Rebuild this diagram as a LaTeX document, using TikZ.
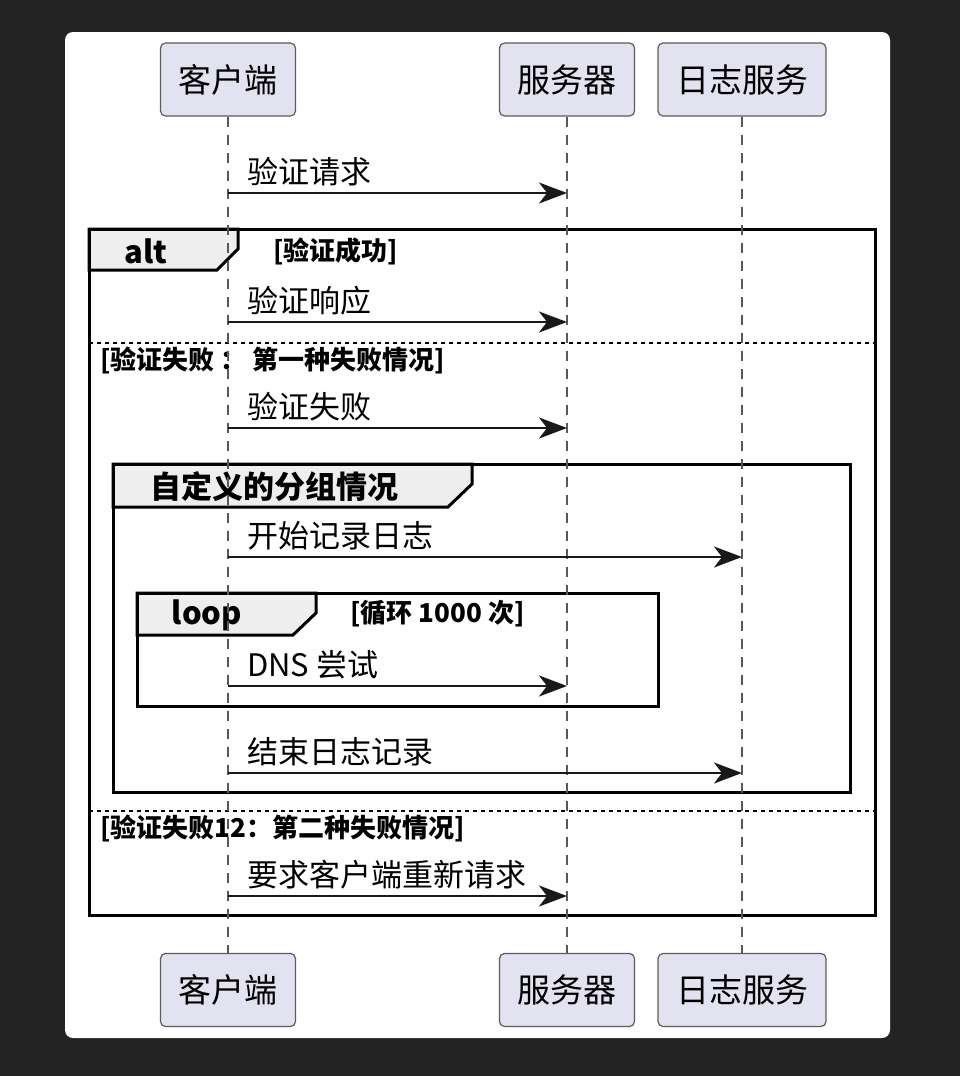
\documentclass[tikz,border=0pt]{standalone}
\usepackage{fontspec}
\setmainfont{Noto Sans CJK SC}
\usetikzlibrary{arrows.meta}
\definecolor{pagebg}{HTML}{232323}
\definecolor{actorfill}{HTML}{E2E2F0}
\definecolor{actorline}{HTML}{5C5C5C}
\definecolor{tabfill}{HTML}{EEEEEE}

\begin{document}
\begin{tikzpicture}[x=0.5pt,y=-0.5pt,
  actor/.style={draw=actorline,fill=actorfill,line width=0.6pt,rounded corners=2.5pt,
    minimum height=36.5pt,inner xsep=9pt,font=\fontsize{16.5}{18}\selectfont},
  life/.style={draw=black!65,line width=0.6pt,dash pattern=on 5pt off 4pt},
  msg/.style={draw=black!90,line width=1pt,-{Stealth[length=14pt,width=10.5pt,inset=4pt]}},
  msgtext/.style={anchor=base west,inner sep=0pt,xshift=9pt,yshift=5pt,
    font=\fontsize{15.5}{17}\selectfont},
  fragbox/.style={draw=black,line width=1.5pt},
  tab/.style={draw=black,fill=tabfill,line width=1.5pt},
  tabtext/.style={inner sep=0pt,font=\bfseries\fontsize{15.5}{17}\selectfont},
  guard/.style={anchor=west,inner sep=0pt,font=\bfseries\fontsize{13}{15}\selectfont},
  altsep/.style={draw=black,line width=1pt,dash pattern=on 2pt off 2pt}]
  \fill[pagebg] (0,0) rectangle (960,1076);
  \fill[white,rounded corners=4pt] (65,32) rectangle (890,1038);

  \node[actor] (cli-top) at (228,79.5) {客户端};
  \node[actor] (srv-top) at (567,79.5) {服务器};
  \node[actor] (log-top) at (742,79.5) {日志服务};
  \node[actor] (cli-bot) at (228,990) {客户端};
  \node[actor] (srv-bot) at (567,990) {服务器};
  \node[actor] (log-bot) at (742,990) {日志服务};

  % alt
  \draw[tab] (89,229) -- (238,229) -- (238,249) -- (217,270) -- (89,270) -- cycle;
  \node[tabtext] (alt-tag) at (146,251) {alt};
  \node[guard] (alt-ok) at (273,251) {[验证成功]};
  \draw[fragbox] (89,229) rectangle (875,915);
  \draw[altsep] (89,343) -- (875,343);
  \node[guard] (alt-fail1) at (100,360) {[验证失败 ： 第一种失败情况]};
  \draw[altsep] (89,811) -- (875,811);
  \node[guard] (alt-fail2) at (100,828) {[验证失败12：第二种失败情况]};

  % group
  \draw[tab] (113,464) -- (472,464) -- (472,484) -- (448,507) -- (113,507) -- cycle;
  \node[tabtext] (grp-tag) at (274,487) {自定义的分组情况};
  \draw[fragbox] (113,464) rectangle (850,792);

  % loop
  \draw[tab] (137,593) -- (316,593) -- (316,613) -- (293,635) -- (137,635) -- cycle;
  \node[tabtext] (loop-tag) at (207,615) {loop};
  \node[guard] (loop-cond) at (350,614) {[循环 1000 次]};
  \draw[fragbox] (137,593) rectangle (658,706);

  \foreach \p in {cli,srv,log}
    \draw[life] (\p-top) -- (\p-bot);

  \foreach \y/\dst/\txt in {193/srv/验证请求, 322/srv/验证响应, 428/srv/验证失败,
      557/log/开始记录日志, 686/srv/{DNS 尝试}, 773/log/结束日志记录,
      896/srv/要求客户端重新请求}
    \draw[msg] (cli-top |- 0,\y) node[msgtext] {\txt} -- (\dst-top |- 0,\y);
\end{tikzpicture}
\end{document}
